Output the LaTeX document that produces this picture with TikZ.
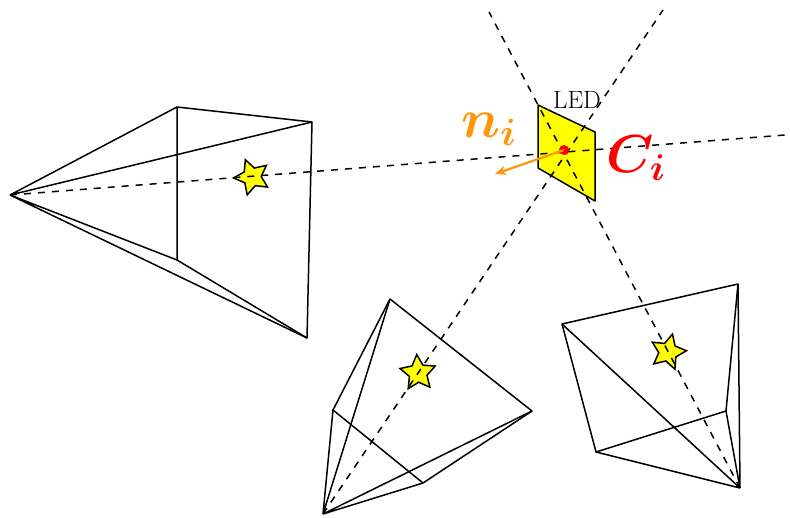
\documentclass[tikz,border=0pt]{standalone}
\usetikzlibrary{shapes.geometric,arrows.meta}
\definecolor{ledorange}{RGB}{255,150,10}
\definecolor{ledyellow}{RGB}{255,255,0}
\definecolor{ledred}{RGB}{255,0,0}
\tikzset{
  edge/.style={draw=black,line width=1.5pt,line join=round},
  ray/.style={draw=black,line width=1.5pt,dash pattern=on 7pt off 7pt},
  starmark/.style={star,star points=5,star point ratio=2,minimum size=37pt,inner sep=0pt,draw=black,fill=ledyellow,line width=1.5pt},
  lab/.style={inner sep=0pt}
}
\begin{document}
\begin{tikzpicture}[x=1pt,y=-1pt]
\useasboundingbox (0,0) rectangle (790,517);
% left camera
\coordinate (a1) at (10,195);
\coordinate (b1) at (177,107);
\coordinate (c1) at (312,122);
\coordinate (d1) at (307,338);
\coordinate (e1) at (177,260);
% bottom camera
\coordinate (a2) at (323,514);
\coordinate (b2) at (390,299);
\coordinate (c2) at (532,411);
\coordinate (d2) at (423,483);
\coordinate (e2) at (333,410);
% right camera
\coordinate (a3) at (740,488);
\coordinate (b3) at (562,324);
\coordinate (c3) at (738,284);
\coordinate (d3) at (726,411);
\coordinate (e3) at (596,452);
% LED
\coordinate (l1) at (538,105);
\coordinate (l2) at (595,132);
\coordinate (l3) at (595,201);
\coordinate (l4) at (538,168);
\coordinate (ctr) at (564,150);
\coordinate (r1) at (785,135);
\coordinate (r2) at (663,10);
\coordinate (r3) at (489,12);
\coordinate (nend) at (495,174);
\draw[edge] (b1)--(c1)--(d1)--(e1)--cycle;
\draw[edge] (a1)--(b1) (a1)--(c1) (a1)--(d1) (a1)--(e1);
\draw[edge] (b2)--(c2)--(d2)--(e2)--cycle;
\draw[edge] (a2)--(b2) (a2)--(c2) (a2)--(d2) (a2)--(e2);
\draw[edge] (b3)--(c3)--(d3)--(e3)--cycle;
\draw[edge] (a3)--(b3) (a3)--(c3) (a3)--(d3) (a3)--(e3);
\draw[edge,fill=ledyellow] (l1)--(l2)--(l3)--(l4)--cycle;
\node[starmark,rotate=21] (s1) at (252,177) {};
\node[starmark,rotate=4] (s2) at (418,373) {};
\node[starmark,rotate=-14] (s3) at (668,352) {};
\draw[ray] (a1)--(r1);
\draw[ray] (a2)--(r2);
\draw[ray] (a3)--(r3);
\fill[ledred] (ctr) circle (5pt);
\node[draw=none,inner sep=0pt,minimum size=0pt] (dot) at (ctr) {};
\draw[draw=ledorange,line width=2.2pt,-{Stealth[length=11pt,width=9pt,inset=3pt]}] (dot)--(nend);
\node[lab,font=\fontsize{25}{28}\selectfont] (led) at (577,100) {LED};
\node[lab,text=ledorange,font=\fontsize{24}{28}\selectfont\boldmath,scale=2.2] (ni) at (489,129) {$n_i$};
\node[lab,text=ledred,font=\fontsize{24}{28}\selectfont\boldmath,scale=2.15] (ci) at (636,158) {$C_i$};
\end{tikzpicture}
\end{document}
